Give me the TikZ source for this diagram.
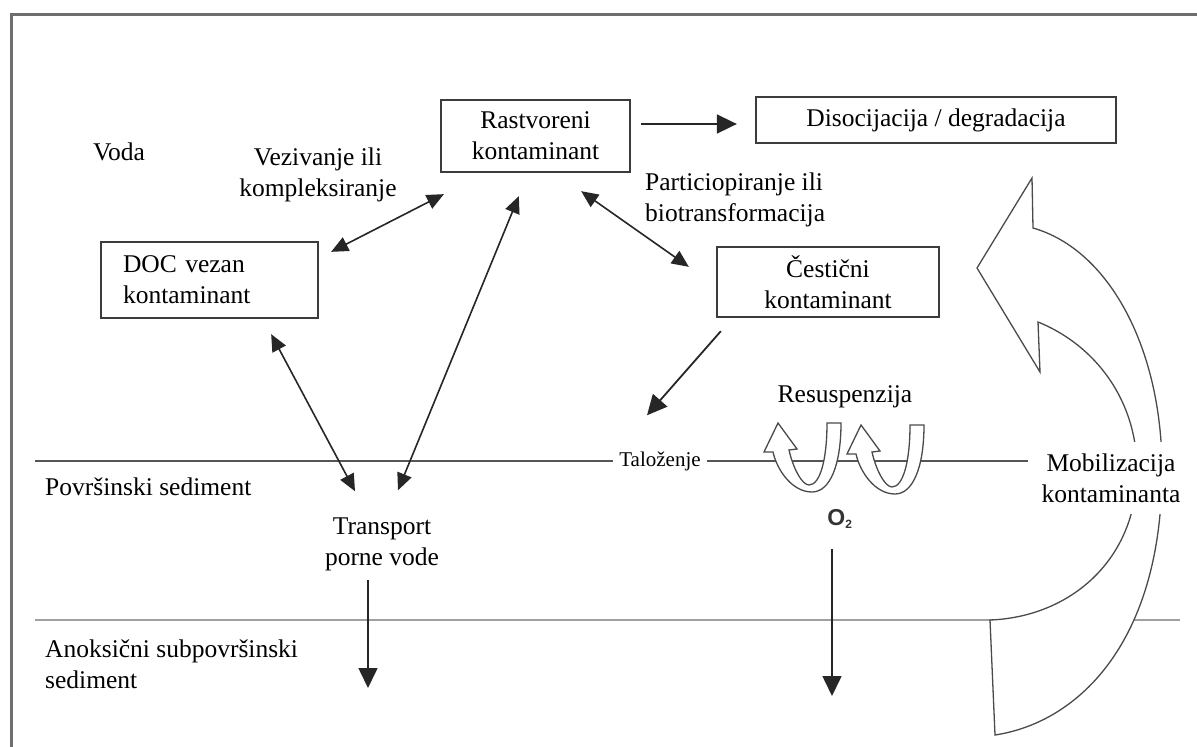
\documentclass[tikz,border=0pt]{standalone}
\usepackage{fontspec}
\setmainfont{Liberation Serif}
\newfontfamily\labelsans{Liberation Sans}
\usetikzlibrary{arrows.meta,calc}
\definecolor{framegray}{HTML}{6E6E6E}
\definecolor{boxgray}{HTML}{3C3C3C}
\definecolor{arrowgray}{HTML}{262626}
\definecolor{surfgray}{HTML}{555555}
\definecolor{deepgray}{HTML}{A0A0A0}
\definecolor{shapegray}{HTML}{4A4A4A}

\tikzset{
  txt/.style={font=\fontsize{25.5}{31}\selectfont, inner sep=0pt},
  box/.style={txt, draw=boxgray, line width=2.3pt, align=center},
  arr/.style={draw=arrowgray, line width=1.8pt, -{Triangle[length=20pt,width=19pt]}},
  dbl/.style={draw=arrowgray, line width=1.6pt,
    {Triangle[length=17pt,width=15pt]}-{Triangle[length=17pt,width=15pt]}},
  hollow/.style={draw=shapegray, line width=1.3pt, fill=white, line join=miter},
  curl/.pic={
    \path[hollow] (31,-67) .. controls (31,-25) and (20,2) .. (2,2)
      .. controls (-18,2) and (-33,-20) .. (-37,-38) -- (-46,-38) -- (-32,-67)
      -- (-13,-41) -- (-21,-40) .. controls (-17,-22) and (-8,-5) .. (-1,-5)
      .. controls (10,-5) and (17,-30) .. (17,-67) -- cycle;
  }
}

\begin{document}
\begin{tikzpicture}[x=1pt,y=-1pt]
\useasboundingbox (0,0) rectangle (1197,747);

% outer frame (only top and left edges)
\draw[framegray, line width=3pt] (11,747) -- (11,14) -- (1197,14);

% boxes
\node[box, minimum width=189pt, minimum height=72pt] (R) at (535.5,136) {Rastvoreni\\kontaminant};
\node[box, minimum width=360pt, minimum height=46pt] (D) at (936,120) {Disocijacija / degradacija};
\node[box, align=left, text width=173pt, inner xsep=22pt, minimum height=76pt] (DOC) at (209.5,280) {DOC vezan\\kontaminant};
\node[box, minimum width=222pt, minimum height=70pt] (C) at (828,282) {Čestični\\kontaminant};

% free labels
\node[txt] (voda) at (119,152) {Voda};
\node[txt, align=center] (vez) at (318,175) {Vezivanje ili\\kompleksiranje};
\node[txt, align=left, anchor=west] (part) at (645,200) {Particiopiranje ili\\biotransformacija};
\node[txt] (res) at (845,397) {Resuspenzija};
\node[txt, anchor=west] (pov) at (45,487) {Površinski sediment};
\node[txt, align=center] (T) at (382,544) {Transport\\porne vode};
\node[txt, align=left, anchor=west] (anox) at (45,664) {Anoksični subpovršinski\\sediment};
\node[font=\labelsans\bfseries\fontsize{23}{25}\selectfont, text=black!80, inner sep=0pt] (O2) at (840,519) {O\textsubscript{\fontsize{12}{13}\selectfont 2}};
\node[font=\fontsize{21}{24}\selectfont, inner xsep=6pt, inner ysep=0pt] (Tal) at (660,461) {Taloženje};

% sediment boundaries
\draw[surfgray, line width=2.6pt] (35,461) -- (Tal.west);
\draw[surfgray, line width=2.6pt] (Tal.east) -- (1028,461);
\draw[deepgray, line width=2.8pt] (35,620) -- (1180,620);

% resuspension curls
\pic at (810,490) {curl};
\pic at (893,492) {curl};

% large mobilisation arrow
\path[hollow] (995,735) .. controls (1080,722) and (1162,640) .. (1162,470)
  .. controls (1162,350) and (1110,250) .. (1033,228)
  -- (1032,178) -- (977,268) -- (1040,372) -- (1038,322)
  .. controls (1095,345) and (1137,400) .. (1137,470)
  .. controls (1137,560) and (1070,617) .. (990,620) -- cycle;
\node[txt, align=center, fill=white, inner xsep=2pt, inner ysep=12pt] (mob) at (1111,478) {Mobilizacija\\kontaminanta};

% connectors between the compartments
\draw[arr] ($(R.east)+(10,-12)$) -- ($(D.west)+(-18,4)$);
\draw[dbl] ($(R.south west)+(4,21)$) -- ($(DOC.north east)+(12,11)$);
\draw[dbl] ($(R.south west)+(79,23)$) -- ($(T.north)+(16,-27)$);
\draw[dbl] ($(DOC.south east)+(-48,15)$) -- ($(T.north)+(-27,-26)$);
\draw[dbl] ($(R.south east)+(-50,18)$) -- ($(C.north west)+(-27,21)$);
\draw[arr] ($(C.south west)+(5,13)$) -- ($(Tal.north)+(-13,-36)$);

% downward fluxes into the anoxic layer
\coordinate (Tend) at (368,688);
\coordinate (Oend) at (832,696);
\draw[arr, line width=1.6pt] ($(T.south)+(-14,9)$) -- (Tend);
\draw[arr, line width=1.6pt] ($(O2.south)+(-8,20)$) -- (Oend);
\end{tikzpicture}
\end{document}
